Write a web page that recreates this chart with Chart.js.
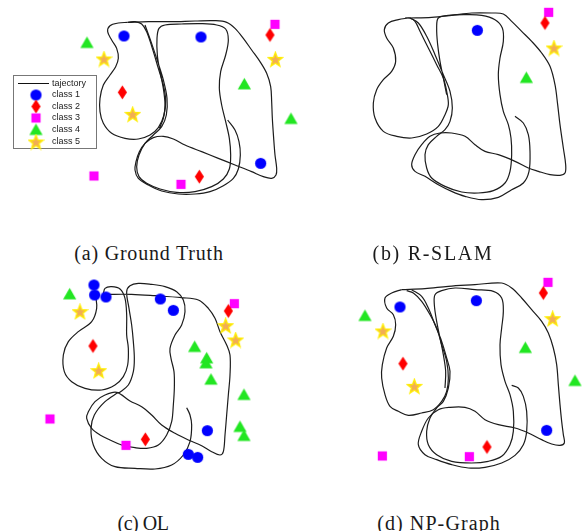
<!DOCTYPE html>
<html>
<head>
<meta charset="utf-8">
<script src="https://cdn.jsdelivr.net/npm/chart.js@4.4.1/dist/chart.umd.min.js"></script>
<style>
body { margin: 0; background: #fff; }
#wrap { position: relative; width: 585px; height: 531px; }
canvas { position: absolute; }
.cap { position: absolute; font-family: 'Liberation Serif', 'Times New Roman', serif; font-size: 20px; color: #1a1a1a; transform: translate(-50%, -50%); white-space: nowrap; }
</style>
</head>
<body>
<div id="wrap">
	<canvas id="panelA" width="305" height="215" style="left:0;top:0"></canvas>
	<canvas id="panelB" width="293" height="215" style="left:292px;top:0"></canvas>
	<canvas id="panelC" width="305" height="215" style="left:0;top:265px"></canvas>
	<canvas id="panelD" width="293" height="215" style="left:292px;top:265px"></canvas>
	<div class="cap" style="left:149px;top:253px;letter-spacing:0.8px">(a) Ground Truth</div>
	<div class="cap" style="left:433px;top:253px;letter-spacing:1.7px">(b) R-SLAM</div>
	<div class="cap" style="left:143px;top:523px;letter-spacing:-0.5px">(c) OL</div>
	<div class="cap" style="left:439px;top:523px;letter-spacing:1.1px">(d) NP-Graph</div>
</div>
<script>
// ---- datos (coordenadas de mapa) ----
const classNames = ['class 1', 'class 2', 'class 3', 'class 4', 'class 5'];
const lineLabel = 'tajectory';

// (a) Ground Truth
const gtTraj1 = [[98,22],[160,20],[230,20],[300,18],[360,17],[395,22],[420,40],[445,70],[470,105],[495,140],[515,175],[527,215],[530,260],[532,310],[536,370],[540,420],[545,460],[543,480],[530,490],[505,485],[470,470],[420,450],[370,430],[320,410],[270,390],[235,372],[205,364],[175,368],[150,385],[133,410],[123,440],[120,465],[130,490],[160,510],[200,528],[250,537],[300,537],[345,530],[385,512],[415,490],[430,462],[436,420],[432,380],[420,345],[398,315]];
const gtTraj2 = [[98,22],[70,24],[45,32],[38,50],[50,75],[65,100],[70,130],[62,155],[45,180],[25,210],[15,250],[15,290],[25,325],[50,355],[90,370],[130,372],[165,360],[190,338],[207,300],[212,255],[205,210],[190,160],[172,100],[155,50],[140,27],[120,20],[100,21]];
const gtTraj3 = [[150,30],[168,80],[188,140],[205,195],[216,250],[214,300],[200,335],[175,360],[150,385],[132,420],[125,455],[132,485],[155,505],[195,522],[245,532],[300,530],[350,515],[385,492],[403,462],[407,420],[403,370],[392,320],[380,270],[373,220],[377,170],[392,120],[400,75],[392,42],[365,30],[320,26],[260,27],[210,30],[192,40],[186,70],[187,120],[195,170],[205,220],[210,270],[205,310],[193,340]];
const gtClass1 = [[87,63],[318,66],[497,445]];
const gtClass2 = [[525,60],[82,232],[313,485]];
const gtClass3 = [[540,28],[-3,483],[258,508]];
const gtClass4 = [[-24,84],[448,208],[588,312]];
const gtClass5 = [[27,132],[541,133],[113,298]];

// (b) R-SLAM
const rsTraj1 = [[130,30],[200,28],[260,22],[320,15],[380,15],[415,18],[440,40],[470,70],[500,100],[530,135],[555,175],[570,230],[578,290],[585,350],[595,420],[602,470],[600,495],[585,502],[555,500],[520,490],[490,480],[450,460],[400,440],[360,430],[330,410],[300,385],[260,375],[225,375],[195,385],[170,410],[150,440],[140,470],[150,490],[180,505],[220,530],[260,550],[300,565],[350,575],[400,568],[440,545],[475,525],[492,490],[495,430],[490,380],[475,345],[450,325]];
const rsTraj2 = [[130,30],[100,35],[70,45],[58,65],[65,90],[85,120],[92,160],[80,190],[55,215],[35,245],[25,285],[30,330],[55,370],[95,385],[140,390],[185,378],[220,355],[240,320],[250,290],[245,250],[235,210],[215,170],[190,120],[165,70],[150,40],[135,30],[120,30]];
const rsTraj3 = [[135,30],[160,45],[185,85],[210,140],[235,200],[255,250],[262,300],[255,340],[240,365],[215,385],[190,410],[180,440],[185,480],[200,510],[240,535],[290,552],[340,555],[385,548],[420,525],[435,490],[440,440],[438,390],[430,350],[415,310],[405,260],[400,200],[405,150],[415,100],[412,60],[390,35],[350,22],[300,20],[250,22],[220,30],[215,60],[218,110],[225,160],[235,210],[245,260]];
const rsClass1 = [[337,67]];
const rsClass2 = [[540,45]];
const rsClass3 = [[551,13]];
const rsClass4 = [[484,210]];
const rsClass5 = [[567,120]];

// (c) OL
const olTraj1 = [[150,58],[230,58],[300,62],[380,68],[430,75],[460,100],[480,130],[495,170],[515,210],[525,240],[525,300],[520,360],[515,420],[510,480],[505,530],[495,540],[470,530],[440,512],[400,495],[360,475],[320,450],[290,420],[260,395],[225,378],[185,352],[150,360],[120,380],[100,410],[95,430],[110,460],[135,480],[165,495],[200,510],[240,518],[275,520],[310,510],[335,480],[350,440],[355,390],[358,340],[357,290],[348,250],[345,220],[360,180],[380,150],[390,110],[385,75],[365,50],[330,35],[290,28],[250,25],[225,32],[215,50],[222,100],[230,150],[235,200],[238,250],[235,290],[220,330],[190,355]];
const olTraj2 = [[122,62],[125,100],[110,140],[70,170],[40,200],[25,240],[28,290],[50,320],[90,340],[140,345],[180,330],[205,305],[218,270],[220,220],[215,180],[215,120],[210,70],[195,42],[170,35],[150,40],[145,58]];
const olTraj3 = [[190,352],[150,380],[118,420],[108,460],[115,510],[140,550],[180,575],[240,580],[300,582],[350,570],[385,540],[405,500],[410,450],[405,420],[395,398]];
const olClass1 = [[117,30],[119,60],[153,66],[316,72],[355,106],[457,467],[400,538],[428,547]];
const olClass2 = [[520,108],[114,213],[271,493]];
const olClass3 = [[538,86],[-15,432],[213,511]];
const olClass4 = [[44,58],[419,216],[455,250],[453,265],[468,314],[567,360],[555,456],[567,483]];
const olClass5 = [[75,110],[512,152],[542,195],[131,287]];

// (d) NP-Graph
const npTraj1 = [[80,35],[150,32],[220,25],[300,20],[380,15],[410,30],[440,60],[470,95],[500,130],[520,165],[535,210],[545,260],[550,320],[555,380],[560,430],[565,470],[568,495],[555,502],[530,498],[500,485],[460,465],[420,450],[370,440],[330,425],[300,400],[270,388],[225,388],[190,395],[160,420],[140,460],[130,500],[150,530],[185,545],[230,560],[280,570],[330,568],[380,555],[420,532],[445,500],[455,460],[455,400],[445,355],[430,330],[410,322]];
const npTraj2 = [[80,35],[50,45],[30,60],[35,90],[55,110],[62,140],[55,175],[35,210],[22,260],[20,300],[30,350],[45,385],[70,400],[100,412],[140,405],[175,395],[200,370],[215,340],[220,300],[215,250],[200,200],[185,150],[165,110],[140,70],[115,45],[95,38]];
const npTraj3 = [[110,35],[140,55],[160,90],[180,140],[200,190],[215,240],[225,280],[220,330],[205,370],[185,390],[165,420],[155,460],[160,500],[185,530],[230,550],[290,555],[340,550],[380,535],[405,500],[415,460],[415,400],[405,350],[390,310],[378,260],[375,200],[380,150],[385,100],[380,60],[355,40],[300,35],[240,30],[200,38],[180,50],[178,80],[185,130],[195,180],[205,230],[212,280],[210,330]];
const npClass1 = [[75,87],[304,68],[515,457]];
const npClass2 = [[505,45],[84,257],[336,507]];
const npClass3 = [[519,13],[22,534],[283,536]];
const npClass4 = [[-30,114],[451,210],[600,309]];
const npClass5 = [[24,159],[533,122],[118,325]];

// ---- marcadores estilo matlab ----
function makeMarker(kind) {
	const c = document.createElement('canvas');
	c.width = 17; c.height = 17;
	const g = c.getContext('2d');
	const m = 8.5;
	g.beginPath();
	if (kind === 'circle') {
		g.fillStyle = '#0000ff';
		g.arc(m, m, 5.6, 0, Math.PI * 2);
		g.fill();
	} else if (kind === 'diamond') {
		g.fillStyle = '#ff0000';
		g.moveTo(m, m - 7); g.lineTo(m + 4.6, m); g.lineTo(m, m + 7); g.lineTo(m - 4.6, m);
		g.closePath(); g.fill();
	} else if (kind === 'square') {
		g.fillStyle = '#ff00ff';
		g.fillRect(m - 4.6, m - 4.6, 9.2, 9.2);
	} else if (kind === 'triangle') {
		g.fillStyle = '#22e622';
		g.moveTo(m, m - 6.5); g.lineTo(m + 6.6, m + 5); g.lineTo(m - 6.6, m + 5);
		g.closePath(); g.fill();
	} else if (kind === 'star') {
		for (let i = 0; i < 10; i++) {
			const r = i % 2 === 0 ? 7.6 : 3.2;
			const a = -Math.PI / 2 + i * Math.PI / 5;
			const px = m + r * Math.cos(a), py = m + 0.6 + r * Math.sin(a);
			if (i === 0) g.moveTo(px, py); else g.lineTo(px, py);
		}
		g.closePath();
		g.fillStyle = '#f2ad55';
		g.fill();
		g.strokeStyle = '#ffee00';
		g.lineWidth = 1.3;
		g.stroke();
	}
	return c;
}
const markers = ['circle', 'diamond', 'square', 'triangle', 'star'].map(makeMarker);

// leyenda dibujada dentro del panel (a)
const legendPlugin = {
	id: 'boxLegend',
	afterDatasetsDraw(chart) {
		const ctx = chart.ctx;
		ctx.save();
		ctx.fillStyle = '#fff';
		ctx.fillRect(13, 75, 83, 74);
		ctx.strokeStyle = '#777';
		ctx.lineWidth = 1;
		ctx.strokeRect(13.5, 75.5, 83, 73);
		ctx.font = '9px "Liberation Sans", Arial, sans-serif';
		ctx.fillStyle = '#222';
		ctx.textBaseline = 'middle';
		ctx.beginPath();
		ctx.moveTo(18, 83.5); ctx.lineTo(49, 83.5);
		ctx.strokeStyle = '#111';
		ctx.stroke();
		ctx.fillText(lineLabel, 52, 83.5);
		const rows = [95, 106.5, 118, 130, 142];
		classNames.forEach((name, i) => {
			const mk = markers[i];
			ctx.drawImage(mk, 36 - mk.width / 2, rows[i] - mk.height / 2);
			ctx.fillStyle = '#222';
			ctx.fillText(name, 52, rows[i]);
		});
		ctx.restore();
	}
};

function toPts(arr) {
	return arr.map(p => ({ x: p[0], y: p[1] }));
}

function buildPanel(id, xr, yr, trajs, classes, withLegend) {
	const datasets = [];
	trajs.forEach(t => {
		datasets.push({
			label: lineLabel,
			data: toPts(t),
			showLine: true,
			pointRadius: 0,
			borderColor: '#1c1c1c',
			borderWidth: 1.2,
			tension: 0.35,
			fill: false,
			clip: false,
			order: 1
		});
	});
	classes.forEach((pts, i) => {
		datasets.push({
			label: classNames[i],
			data: toPts(pts),
			pointStyle: markers[i],
			pointRadius: 6,
			showLine: false,
			clip: false,
			order: 0
		});
	});
	new Chart(document.getElementById(id), {
		type: 'scatter',
		data: { datasets: datasets },
		options: {
			responsive: false,
			animation: false,
			devicePixelRatio: 1,
			layout: { padding: 0, autoPadding: false },
			plugins: { legend: { display: false }, tooltip: { enabled: false } },
			scales: {
				x: { type: 'linear', min: xr[0], max: xr[1], display: false },
				y: { type: 'linear', min: yr[0], max: yr[1], reverse: true, display: false }
			}
		},
		plugins: withLegend ? [legendPlugin] : []
	});
}

buildPanel('panelA', [-285, 630], [-45, 600], [gtTraj1, gtTraj2, gtTraj3], [gtClass1, gtClass2, gtClass3, gtClass4, gtClass5], true);
buildPanel('panelB', [-219, 660], [-24, 621], [rsTraj1, rsTraj2, rsTraj3], [rsClass1, rsClass2, rsClass3, rsClass4, rsClass5], false);
buildPanel('panelC', [-165, 750], [-30, 615], [olTraj1, olTraj2, olTraj3], [olClass1, olClass2, olClass3, olClass4, olClass5], false);
buildPanel('panelD', [-249, 630], [-39, 606], [npTraj1, npTraj2, npTraj3], [npClass1, npClass2, npClass3, npClass4, npClass5], false);
</script>
</body>
</html>
